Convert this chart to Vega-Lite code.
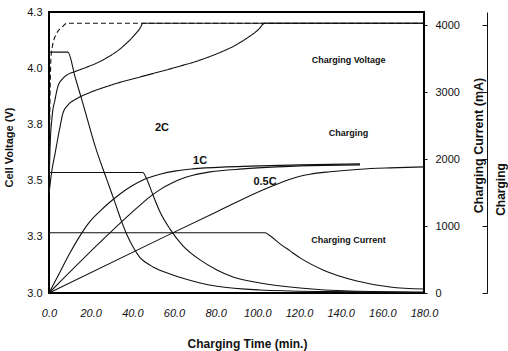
{
  "$schema": "https://vega.github.io/schema/vega-lite/v6.json",
  "width": 375,
  "height": 281,
  "autosize": "none",
  "padding": {"left": 49, "top": 12, "right": 84, "bottom": 58},
  "background": "white",
  "config": {
    "view": {"stroke": "#000", "strokeWidth": 2},
    "font": "Liberation Sans",
    "axis": {"grid": false, "labelColor": "#111", "titleColor": "#111", "labelFont": "Liberation Sans", "titleFont": "Liberation Sans"}
  },
  "datasets": {
    "voltage": [
      {"rate": "2C", "t": 0, "v": 3.45}, {"rate": "2C", "t": 0.48, "v": 3.86}, {"rate": "2C", "t": 0.96, "v": 4.05},
      {"rate": "2C", "t": 1.92, "v": 4.11}, {"rate": "2C", "t": 3.36, "v": 4.15}, {"rate": "2C", "t": 4.32, "v": 4.165},
      {"rate": "2C", "t": 6.24, "v": 4.183}, {"rate": "2C", "t": 8.64, "v": 4.2}, {"rate": "2C", "t": 180, "v": 4.2},
      {"rate": "1C", "t": 0, "v": 3.45}, {"rate": "1C", "t": 0.48, "v": 3.64}, {"rate": "1C", "t": 1.44, "v": 3.78},
      {"rate": "1C", "t": 2.88, "v": 3.86}, {"rate": "1C", "t": 4.32, "v": 3.92}, {"rate": "1C", "t": 6.24, "v": 3.95},
      {"rate": "1C", "t": 8.64, "v": 3.97}, {"rate": "1C", "t": 12.5, "v": 3.985}, {"rate": "1C", "t": 18.2, "v": 4.005},
      {"rate": "1C", "t": 24.5, "v": 4.03}, {"rate": "1C", "t": 29.3, "v": 4.055}, {"rate": "1C", "t": 32.6, "v": 4.075},
      {"rate": "1C", "t": 36.5, "v": 4.105}, {"rate": "1C", "t": 40.3, "v": 4.14}, {"rate": "1C", "t": 43.7, "v": 4.178},
      {"rate": "1C", "t": 45.1, "v": 4.2}, {"rate": "1C", "t": 180, "v": 4.2},
      {"rate": "0.5C", "t": 0, "v": 3.44}, {"rate": "0.5C", "t": 1.3, "v": 3.54}, {"rate": "0.5C", "t": 2.9, "v": 3.62},
      {"rate": "0.5C", "t": 5.3, "v": 3.74}, {"rate": "0.5C", "t": 6.7, "v": 3.8}, {"rate": "0.5C", "t": 9.12, "v": 3.836},
      {"rate": "0.5C", "t": 13.44, "v": 3.865}, {"rate": "0.5C", "t": 19.68, "v": 3.892}, {"rate": "0.5C", "t": 27.84, "v": 3.919},
      {"rate": "0.5C", "t": 35.52, "v": 3.941}, {"rate": "0.5C", "t": 43.68, "v": 3.961}, {"rate": "0.5C", "t": 51.84, "v": 3.981},
      {"rate": "0.5C", "t": 60.48, "v": 4.003}, {"rate": "0.5C", "t": 72.48, "v": 4.036}, {"rate": "0.5C", "t": 82.08, "v": 4.07},
      {"rate": "0.5C", "t": 89.28, "v": 4.101}, {"rate": "0.5C", "t": 95.52, "v": 4.137}, {"rate": "0.5C", "t": 100.32, "v": 4.17},
      {"rate": "0.5C", "t": 103.68, "v": 4.2}, {"rate": "0.5C", "t": 180, "v": 4.2}
    ],
    "current": [
      {"rate": "2C", "t": 0, "ma": 3600}, {"rate": "2C", "t": 9.1, "ma": 3600}, {"rate": "2C", "t": 12.5, "ma": 3230},
      {"rate": "2C", "t": 16.3, "ma": 2830}, {"rate": "2C", "t": 22.1, "ma": 2200}, {"rate": "2C", "t": 27.8, "ma": 1690},
      {"rate": "2C", "t": 31.7, "ma": 1350}, {"rate": "2C", "t": 34.6, "ma": 1090}, {"rate": "2C", "t": 37.4, "ma": 870},
      {"rate": "2C", "t": 40.3, "ma": 690}, {"rate": "2C", "t": 43.7, "ma": 530}, {"rate": "2C", "t": 46.5, "ma": 455},
      {"rate": "2C", "t": 49.9, "ma": 390}, {"rate": "2C", "t": 58.1, "ma": 285}, {"rate": "2C", "t": 64.3, "ma": 220},
      {"rate": "2C", "t": 72.5, "ma": 150}, {"rate": "2C", "t": 80.6, "ma": 100}, {"rate": "2C", "t": 101.3, "ma": 45},
      {"rate": "2C", "t": 134.9, "ma": 20}, {"rate": "2C", "t": 180, "ma": 8},
      {"rate": "1C", "t": 0, "ma": 1800}, {"rate": "1C", "t": 45.1, "ma": 1800}, {"rate": "1C", "t": 46.5, "ma": 1730},
      {"rate": "1C", "t": 49.9, "ma": 1465}, {"rate": "1C", "t": 53.3, "ma": 1210}, {"rate": "1C", "t": 58.1, "ma": 955},
      {"rate": "1C", "t": 64.3, "ma": 705}, {"rate": "1C", "t": 72.5, "ma": 495}, {"rate": "1C", "t": 80.6, "ma": 345},
      {"rate": "1C", "t": 88.3, "ma": 240}, {"rate": "1C", "t": 101.3, "ma": 150}, {"rate": "1C", "t": 120.5, "ma": 75},
      {"rate": "1C", "t": 144.5, "ma": 30}, {"rate": "1C", "t": 180, "ma": 15},
      {"rate": "0.5C", "t": 0, "ma": 900}, {"rate": "0.5C", "t": 103.7, "ma": 900}, {"rate": "0.5C", "t": 106.1, "ma": 855},
      {"rate": "0.5C", "t": 110.9, "ma": 735}, {"rate": "0.5C", "t": 115.7, "ma": 630}, {"rate": "0.5C", "t": 120.5, "ma": 525},
      {"rate": "0.5C", "t": 131.5, "ma": 345}, {"rate": "0.5C", "t": 147.8, "ma": 180}, {"rate": "0.5C", "t": 163.7, "ma": 90},
      {"rate": "0.5C", "t": 180, "ma": 60}
    ],
    "capacity": [
      {"rate": "2C", "t": 0, "mah": 0}, {"rate": "2C", "t": 5.3, "mah": 315}, {"rate": "2C", "t": 10.1, "mah": 600},
      {"rate": "2C", "t": 15.4, "mah": 880}, {"rate": "2C", "t": 19.7, "mah": 1070}, {"rate": "2C", "t": 24.5, "mah": 1225},
      {"rate": "2C", "t": 29.3, "mah": 1360}, {"rate": "2C", "t": 34.1, "mah": 1480}, {"rate": "2C", "t": 40.3, "mah": 1610},
      {"rate": "2C", "t": 45.1, "mah": 1690}, {"rate": "2C", "t": 53.3, "mah": 1775}, {"rate": "2C", "t": 61, "mah": 1825},
      {"rate": "2C", "t": 69.1, "mah": 1855}, {"rate": "2C", "t": 85.4, "mah": 1885}, {"rate": "2C", "t": 101.3, "mah": 1900},
      {"rate": "2C", "t": 120.5, "mah": 1915}, {"rate": "2C", "t": 149.3, "mah": 1930},
      {"rate": "1C", "t": 0, "mah": 0}, {"rate": "1C", "t": 45.1, "mah": 1350}, {"rate": "1C", "t": 48.5, "mah": 1440},
      {"rate": "1C", "t": 53.3, "mah": 1545}, {"rate": "1C", "t": 59.5, "mah": 1650}, {"rate": "1C", "t": 64.3, "mah": 1715},
      {"rate": "1C", "t": 69.1, "mah": 1760}, {"rate": "1C", "t": 77.3, "mah": 1810}, {"rate": "1C", "t": 93.1, "mah": 1855},
      {"rate": "1C", "t": 109.4, "mah": 1885}, {"rate": "1C", "t": 120.5, "mah": 1900}, {"rate": "1C", "t": 149.3, "mah": 1915},
      {"rate": "0.5C", "t": 0, "mah": 0}, {"rate": "0.5C", "t": 58.1, "mah": 880}, {"rate": "0.5C", "t": 80.6, "mah": 1215},
      {"rate": "0.5C", "t": 103.7, "mah": 1555}, {"rate": "0.5C", "t": 110.9, "mah": 1645}, {"rate": "0.5C", "t": 115.7, "mah": 1700},
      {"rate": "0.5C", "t": 120.5, "mah": 1745}, {"rate": "0.5C", "t": 125.3, "mah": 1775}, {"rate": "0.5C", "t": 134.9, "mah": 1812},
      {"rate": "0.5C", "t": 149.3, "mah": 1850}, {"rate": "0.5C", "t": 163.7, "mah": 1870}, {"rate": "0.5C", "t": 180, "mah": 1885}
    ],
    "notes": [
      {"kind": "rate", "label": "2C", "t": 54.2, "v": 3.734},
      {"kind": "rate", "label": "1C", "t": 72.5, "v": 3.587},
      {"kind": "rate", "label": "0.5C", "t": 103.7, "v": 3.494},
      {"kind": "group", "label": "Charging Voltage", "t": 143.8, "v": 4.036},
      {"kind": "group", "label": "Charging", "t": 143.8, "v": 3.712},
      {"kind": "group", "label": "Charging Current", "t": 143.8, "v": 3.236}
    ]
  },
  "encoding": {
    "x": {
      "field": "t", "type": "quantitative",
      "scale": {"domain": [0, 180], "nice": false},
      "axis": {
        "values": [0, 20, 40, 60, 80, 100, 120, 140, 160, 180], "format": ".1f",
        "ticks": false, "tickSize": 0, "domain": false, "labelPadding": 14, "labelFlush": false,
        "labelFontSize": 11, "labelFontStyle": "italic",
        "title": "Charging Time (min.)", "titleFontSize": 12, "titleFontWeight": "bold",
        "titleX": 198, "titleY": 50, "titleBaseline": "middle"
      }
    }
  },
  "layer": [
    {
      "layer": [
        {
          "data": {"name": "voltage"},
          "mark": {"type": "line", "color": "#111", "strokeWidth": 1.1, "interpolate": "monotone"},
          "encoding": {
            "y": {
              "field": "v", "type": "quantitative",
              "scale": {"domain": [3.0, 4.25], "nice": false, "zero": false},
              "axis": {
                "orient": "left", "values": [3.0, 3.25, 3.5, 3.75, 4.0, 4.25], "format": ".1f",
                "ticks": false, "tickSize": 0, "domain": false, "labelPadding": 7, "labelFontSize": 11,
                "title": "Cell Voltage (V)", "titleFontSize": 11, "titleFontWeight": "bold",
                "titleAngle": 270, "titleX": -40, "titleY": 135, "titleBaseline": "middle"
              }
            },
            "strokeDash": {
              "field": "rate", "type": "nominal",
              "scale": {"domain": ["2C", "1C", "0.5C"], "range": [[5, 3], [1, 0], [1, 0]]},
              "legend": null
            }
          }
        },
        {
          "data": {"name": "notes"},
          "transform": [{"filter": "datum.kind === 'rate'"}],
          "mark": {"type": "text", "fontSize": 11, "fontWeight": "bold", "color": "#111", "align": "center", "baseline": "middle"},
          "encoding": {
            "y": {"field": "v", "type": "quantitative"},
            "text": {"field": "label"}
          }
        },
        {
          "data": {"name": "notes"},
          "transform": [{"filter": "datum.kind === 'group'"}],
          "mark": {"type": "text", "fontSize": 9, "fontWeight": "bold", "color": "#111", "align": "center", "baseline": "middle"},
          "encoding": {
            "y": {"field": "v", "type": "quantitative"},
            "text": {"field": "label"}
          }
        }
      ]
    },
    {
      "data": {"name": "current"},
      "mark": {"type": "line", "color": "#111", "strokeWidth": 1.1, "interpolate": "monotone"},
      "encoding": {
        "y": {
          "field": "ma", "type": "quantitative",
          "scale": {"domain": [0, 4200], "nice": false},
          "axis": {
            "orient": "right", "values": [0, 1000, 2000, 3000, 4000], "format": "d",
            "ticks": true, "tickSize": 3, "tickColor": "#111", "domain": false, "labelPadding": 8, "labelFontSize": 11,
            "title": "Charging Current (mA)", "titleFontSize": 12.5, "titleFontWeight": "bold",
            "titleAngle": 270, "titleX": 54, "titleY": 133, "titleBaseline": "middle"
          }
        },
        "detail": {"field": "rate"}
      }
    },
    {
      "data": {"name": "capacity"},
      "mark": {"type": "line", "color": "#111", "strokeWidth": 1.1, "interpolate": "monotone"},
      "encoding": {
        "y": {
          "field": "mah", "type": "quantitative",
          "scale": {"domain": [0, 4200], "nice": false},
          "axis": {
            "orient": "right", "offset": 63, "values": [0, 1000, 2000, 3000, 4000],
            "labels": false, "ticks": true, "tickSize": -5, "tickColor": "#111",
            "domain": true, "domainColor": "#111", "domainWidth": 1,
            "title": "Charging", "titleFontSize": 12, "titleFontWeight": "bold",
            "titleAngle": 270, "titleX": 13, "titleY": 177, "titleBaseline": "middle"
          }
        },
        "detail": {"field": "rate"}
      }
    }
  ],
  "resolve": {"scale": {"y": "independent"}}
}
